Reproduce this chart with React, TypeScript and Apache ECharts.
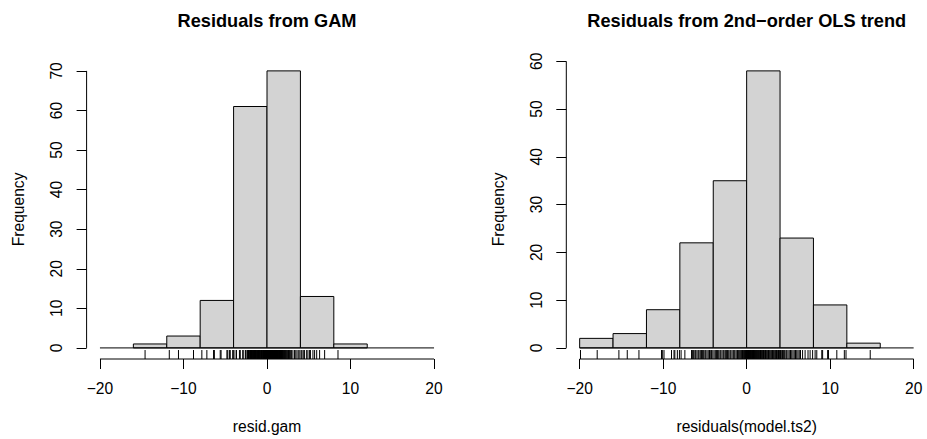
import React, { useEffect, useRef } from "react";
import * as echarts from "echarts";

// ---------- data ----------
const titles = ["Residuals from GAM", "Residuals from 2nd\u2212order OLS trend"];
const xNames = ["resid.gam", "residuals(model.ts2)"];

const breaksGam = [-16, -12, -8, -4, 0, 4, 8, 12];
const countsGam = [1, 3, 12, 61, 70, 13, 1];

const breaksOls = [-20, -16, -12, -8, -4, 0, 4, 8, 12, 16];
const countsOls = [2, 3, 8, 22, 35, 58, 23, 9, 1];

const xTicks = [-20, -10, 0, 10, 20];
const yTicksGam = [0, 10, 20, 30, 40, 50, 60, 70];
const yTicksOls = [0, 10, 20, 30, 40, 50, 60];

const rugGam = [
  -14.6,
  -11.7, -10.6, -8.8,
  -7.8, -7.2, -6.4, -6.3, -5.6, -5.5, -4.8, -4.7, -4.5, -4.4, -4.1, -4.05,
  -3.95, -3.7, -3.65, -3.3, -3.2, -2.9, -2.85, -2.6, -2.55, -2.4,
  -2.32, -2.27, -2.21, -2.18, -2.11, -2.04, -1.98, -1.93, -1.9, -1.86,
  -1.79, -1.74, -1.68, -1.61, -1.57, -1.53, -1.49, -1.44, -1.38, -1.35,
  -1.31, -1.27, -1.2, -1.13, -1.08, -1.02, -0.97, -0.95, -0.91, -0.86,
  -0.8, -0.74, -0.69, -0.66, -0.63, -0.58, -0.52, -0.47, -0.44, -0.41,
  -0.36, -0.31, -0.26, -0.23, -0.21, -0.17, -0.12, -0.1, -0.08, -0.05, -0.03,
  0.02, 0.05, 0.09, 0.14, 0.17, 0.21, 0.24, 0.28, 0.31, 0.36,
  0.38, 0.43, 0.46, 0.5, 0.53, 0.56, 0.61, 0.64, 0.67, 0.72,
  0.75, 0.8, 0.83, 0.85, 0.91, 0.94, 0.97, 1.02, 1.06, 1.09,
  1.12, 1.18, 1.21, 1.24, 1.3, 1.33, 1.36, 1.42, 1.46, 1.49,
  1.55, 1.58, 1.62, 1.68, 1.72, 1.75, 1.81, 1.87, 1.9, 1.94,
  2.01, 2.05, 2.12, 2.16, 2.24, 2.28, 2.37, 2.42, 2.51, 2.57,
  2.67, 2.73, 2.84, 2.92, 3.1, 3.3, 3.45, 3.6, 3.8, 3.94,
  4.1, 4.2, 4.4, 4.5, 4.75, 4.9, 5.1, 5.2, 5.5, 5.7, 5.95, 6.3, 6.9,
  8.5,
];

const rugOls = [
  -19.9, -17.9,
  -15.3, -14.3, -12.9,
  -10.2, -10.1, -9.9, -9.0, -8.7, -8.6, -8.3, -8.05,
  -7.85, -7.4, -6.6, -6.5, -6.35, -6.2, -6.1, -5.95, -5.8, -5.7, -5.55,
  -5.4, -5.3, -5.15, -5.0, -4.9, -4.75, -4.6, -4.45, -4.3, -4.2, -4.05,
  -3.9, -3.75, -3.6, -3.5, -3.35, -3.2, -3.1, -2.95, -2.8, -2.7, -2.55,
  -2.4, -2.3, -2.15, -2.0, -1.9, -1.75, -1.6, -1.5, -1.4, -1.25, -1.1,
  -1.0, -0.9, -0.8, -0.7, -0.6, -0.5, -0.42, -0.35, -0.27, -0.2, -0.13,
  -0.07, -0.02,
  0.03, 0.08, 0.12, 0.17, 0.22, 0.26, 0.31, 0.36, 0.4, 0.45,
  0.5, 0.55, 0.6, 0.66, 0.71, 0.76, 0.82, 0.87, 0.93, 0.98,
  1.04, 1.1, 1.15, 1.21, 1.27, 1.33, 1.4, 1.46, 1.52, 1.59,
  1.66, 1.72, 1.8, 1.87, 1.94, 2.02, 2.1, 2.18, 2.26, 2.35,
  2.44, 2.53, 2.62, 2.71, 2.8, 2.9, 3.0, 3.1, 3.2, 3.3,
  3.4, 3.48, 3.57, 3.65, 3.74, 3.82, 3.9, 3.97,
  4.05, 4.15, 4.3, 4.4, 4.55, 4.7, 4.8, 4.95, 5.1, 5.25, 5.4, 5.55,
  5.7, 5.85, 6.0, 6.15, 6.3, 6.45, 6.7, 7.0, 7.35, 7.6, 7.9,
  8.2, 8.4, 9.0, 9.1, 9.7, 9.8, 10.8, 11.7, 11.9,
  14.8,
];

// ---------- layout ----------
const FONT = '"Liberation Sans", Arial, Helvetica, sans-serif';
const AXIS_FS = 15.6;
const XLIM = [-20, 20];
const gridLefts = [86.6, 566.3];
const GRID_TOP = 59.8;
const GRID_W = 360.8;
const GRID_H = 302.4;

function minusFmt(v: number) {
  return String(v).replace("-", "\u2212");
}

function buildPanel(
  idx: number,
  breaks: number[],
  counts: number[],
  rug: number[],
  yTicks: number[]
) {
  const xr = XLIM[1] - XLIM[0];
  const xMin = XLIM[0] - 0.04 * xr;
  const xMax = XLIM[1] + 0.04 * xr;
  const yTop = Math.max(...counts);
  const yMin = -0.04 * yTop;
  const yMax = yTop * 1.04;
  const rugLen = 0.03 * (yMax - yMin);

  const grid = {
    left: gridLefts[idx],
    top: GRID_TOP,
    width: GRID_W,
    height: GRID_H,
  };

  const xAxis = {
    gridIndex: idx,
    type: "value",
    min: xMin,
    max: xMax,
    name: xNames[idx],
    nameLocation: "middle",
    nameGap: 59,
    nameTextStyle: { fontFamily: FONT, fontSize: AXIS_FS, color: "#000" },
    axisLine: { show: false, onZero: false },
    splitLine: { show: false },
    axisTick: {
      show: true,
      customValues: xTicks,
      length: 10,
      lineStyle: { color: "#000", width: 1 },
    },
    axisLabel: {
      customValues: xTicks,
      formatter: minusFmt,
      fontFamily: FONT,
      fontSize: AXIS_FS,
      color: "#000",
      margin: 21,
    },
  };

  const yAxis = {
    gridIndex: idx,
    type: "value",
    min: yMin,
    max: yMax,
    name: "Frequency",
    nameLocation: "middle",
    nameRotate: 90,
    nameGap: 60,
    nameTextStyle: { fontFamily: FONT, fontSize: AXIS_FS, color: "#000" },
    axisLine: { show: false, onZero: false },
    splitLine: { show: false },
    axisTick: {
      show: true,
      customValues: yTicks,
      length: 10,
      lineStyle: { color: "#000", width: 1 },
    },
    axisLabel: {
      customValues: yTicks,
      rotate: 90,
      fontFamily: FONT,
      fontSize: AXIS_FS,
      color: "#000",
      margin: 22,
    },
  };

  const common = { xAxisIndex: idx, yAxisIndex: idx, silent: true, clip: false };

  const bars = {
    ...common,
    type: "custom",
    data: counts.map((c, k) => [breaks[k], breaks[k + 1], c]),
    encode: { x: [0, 1], y: 2 },
    renderItem: (_p: any, api: any) => {
      const p1 = api.coord([api.value(0), api.value(2)]);
      const p2 = api.coord([api.value(1), 0]);
      return {
        type: "rect",
        shape: { x: p1[0], y: p1[1], width: p2[0] - p1[0], height: p2[1] - p1[1] },
        style: { fill: "#d3d3d3", stroke: "#000", lineWidth: 1 },
      };
    },
  };

  const baseline = {
    ...common,
    type: "custom",
    data: [[XLIM[0], XLIM[1]]],
    encode: { x: [0, 1] },
    renderItem: (_p: any, api: any) => {
      const a = api.coord([api.value(0), 0]);
      const b = api.coord([api.value(1), 0]);
      return {
        type: "line",
        shape: { x1: a[0], y1: a[1], x2: b[0], y2: b[1] },
        style: { stroke: "#000", lineWidth: 1 },
      };
    },
  };

  const rugSeries = {
    ...common,
    type: "custom",
    data: rug.map((v) => [v]),
    encode: { x: 0 },
    renderItem: (_p: any, api: any) => {
      const a = api.coord([api.value(0), yMin]);
      const b = api.coord([api.value(0), yMin + rugLen]);
      return {
        type: "line",
        shape: { x1: a[0], y1: a[1], x2: b[0], y2: b[1] },
        style: { stroke: "#000", lineWidth: 1 },
      };
    },
  };

  const axesLines = {
    ...common,
    type: "custom",
    data: [[xTicks[0], xTicks[xTicks.length - 1], yTicks[0], yTicks[yTicks.length - 1]]],
    encode: { x: [0, 1] },
    renderItem: (_p: any, api: any) => {
      const xa = api.coord([api.value(0), yMin]);
      const xb = api.coord([api.value(1), yMin]);
      const ya = api.coord([xMin, api.value(2)]);
      const yb = api.coord([xMin, api.value(3)]);
      return {
        type: "group",
        children: [
          {
            type: "line",
            shape: { x1: xa[0], y1: xa[1], x2: xb[0], y2: xb[1] },
            style: { stroke: "#000", lineWidth: 1 },
          },
          {
            type: "line",
            shape: { x1: ya[0], y1: ya[1], x2: yb[0], y2: yb[1] },
            style: { stroke: "#000", lineWidth: 1 },
          },
        ],
      };
    },
  };

  const title = {
    type: "text",
    x: grid.left + grid.width / 2,
    y: 21,
    silent: true,
    style: {
      text: titles[idx],
      fill: "#000",
      font: `bold 18.2px ${FONT}`,
      textAlign: "center",
      textVerticalAlign: "middle",
    },
  };

  return { grid, xAxis, yAxis, series: [bars, baseline, rugSeries, axesLines], title };
}

export default function App() {
  const ref = useRef<HTMLDivElement>(null);

  useEffect(() => {
    if (!ref.current) return;
    const chart = echarts.init(ref.current, undefined, { renderer: "svg" });
    const p1 = buildPanel(0, breaksGam, countsGam, rugGam, yTicksGam);
    const p2 = buildPanel(1, breaksOls, countsOls, rugOls, yTicksOls);
    chart.setOption({
      animation: false,
      backgroundColor: "#fff",
      textStyle: { fontFamily: FONT },
      grid: [p1.grid, p2.grid],
      xAxis: [p1.xAxis, p2.xAxis],
      yAxis: [p1.yAxis, p2.yAxis],
      series: [...p1.series, ...p2.series],
      graphic: [p1.title, p2.title],
    });
    return () => chart.dispose();
  }, []);

  return (
    <div
      ref={ref}
      style={{ position: "absolute", left: 0, top: 0, width: 927, height: 439 }}
    />
  );
}
